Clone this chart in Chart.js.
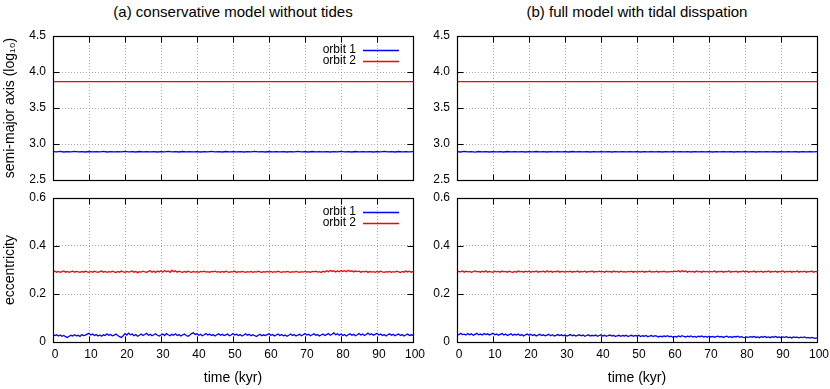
<!DOCTYPE html>
<html><head><meta charset="utf-8">
<script src="https://cdn.jsdelivr.net/npm/chart.js@4.4.1/dist/chart.umd.min.js"></script>
<style>
html,body{margin:0;padding:0;background:#fff;}
#wrap{position:relative;width:830px;height:389px;overflow:hidden;font-family:"Liberation Sans",Arial,sans-serif;}
.panel{position:absolute;}
.ttl{position:absolute;top:3px;font-size:15px;color:#000;white-space:nowrap;transform:translateX(-50%);line-height:18px;}
</style></head><body>
<div id="wrap">
<div class="ttl" style="left:233px">(a) conservative model without tides</div>
<div class="ttl" style="left:637px">(b) full model with tidal disspation</div>
<div class="panel" style="left:0;top:0;width:440px;height:190px"><canvas id="cLT"></canvas></div>
<div class="panel" style="left:0;top:180px;width:440px;height:209px"><canvas id="cLB"></canvas></div>
<div class="panel" style="left:410px;top:0;width:420px;height:190px"><canvas id="cRT"></canvas></div>
<div class="panel" style="left:410px;top:180px;width:420px;height:209px"><canvas id="cRB"></canvas></div>
</div>
<script>
// ---------- data ----------
const timeKyr = [0,1,2,3,4,5,6,7,8,9,10,11,12,13,14,15,16,17,18,19,20,21,22,23,24,25,26,27,28,29,30,31,32,33,34,35,36,37,38,39,40,41,42,43,44,45,46,47,48,49,50,51,52,53,54,55,56,57,58,59,60,61,62,63,64,65,66,67,68,69,70,71,72,73,74,75,76,77,78,79,80,81,82,83,84,85,86,87,88,89,90,91,92,93,94,95,96,97,98,99,100];
const timeFine = [0,0.5,1,1.5,2,2.5,3,3.5,4,4.5,5,5.5,6,6.5,7,7.5,8,8.5,9,9.5,
10,10.5,11,11.5,12,12.5,13,13.5,14,14.5,15,15.5,16,16.5,17,17.5,18,18.5,19,19.5,
20,20.5,21,21.5,22,22.5,23,23.5,24,24.5,25,25.5,26,26.5,27,27.5,28,28.5,29,29.5,
30,30.5,31,31.5,32,32.5,33,33.5,34,34.5,35,35.5,36,36.5,37,37.5,38,38.5,39,39.5,
40,40.5,41,41.5,42,42.5,43,43.5,44,44.5,45,45.5,46,46.5,47,47.5,48,48.5,49,49.5,
50,50.5,51,51.5,52,52.5,53,53.5,54,54.5,55,55.5,56,56.5,57,57.5,58,58.5,59,59.5,
60,60.5,61,61.5,62,62.5,63,63.5,64,64.5,65,65.5,66,66.5,67,67.5,68,68.5,69,69.5,
70,70.5,71,71.5,72,72.5,73,73.5,74,74.5,75,75.5,76,76.5,77,77.5,78,78.5,79,79.5,
80,80.5,81,81.5,82,82.5,83,83.5,84,84.5,85,85.5,86,86.5,87,87.5,88,88.5,89,89.5,
90,90.5,91,91.5,92,92.5,93,93.5,94,94.5,95,95.5,96,96.5,97,97.5,98,98.5,99,99.5,
100];
const timeCoarse = [0,25,50,75,100];

const xTicks = [0,10,20,30,40,50,60,70,80,90,100];
const semiAxisTicks = [2.5,3.0,3.5,4.0,4.5];
const eccTicks = [0,0.2,0.4,0.6];

const seriesLabels = ['orbit 1','orbit 2'];

// semi-major axis (log10), conservative model
const semiAxis1Cons = [2.895,2.890,2.897,2.889,2.894,2.891,2.898,2.890,2.893,2.889,
2.896,2.891,2.894,2.890,2.897,2.889,2.893,2.891,2.895,2.890,
2.898,2.891,2.894,2.889,2.896,2.890,2.893,2.891,2.895,2.889,
2.894,2.890,2.897,2.891,2.893,2.889,2.896,2.890,2.894,2.891,
2.895,2.889,2.893,2.890,2.897,2.891,2.894,2.889,2.896,2.890,
2.893,2.891,2.895,2.889,2.894,2.890,2.897,2.891,2.893,2.889,
2.896,2.890,2.894,2.891,2.895,2.889,2.893,2.890,2.897,2.891,
2.894,2.889,2.896,2.890,2.893,2.891,2.895,2.889,2.894,2.890,
2.897,2.891,2.893,2.889,2.896,2.890,2.894,2.891,2.895,2.889,
2.893,2.890,2.898,2.891,2.894,2.889,2.896,2.890,2.893,2.891,
2.894];
const semiAxis2Cons = [3.867,3.867,3.867,3.867,3.867];

// semi-major axis (log10), tidal model
const semiAxis1Tide = [2.894,2.889,2.897,2.890,2.895,2.888,2.896,2.891,2.893,2.889,
2.895,2.890,2.894,2.889,2.896,2.891,2.893,2.890,2.895,2.889,
2.894,2.890,2.896,2.891,2.893,2.889,2.895,2.890,2.894,2.891,
2.893,2.889,2.896,2.890,2.894,2.891,2.893,2.889,2.895,2.890,
2.894,2.891,2.893,2.889,2.895,2.890,2.894,2.891,2.893,2.890,
2.895,2.889,2.894,2.890,2.893,2.891,2.895,2.889,2.894,2.890,
2.893,2.891,2.895,2.890,2.894,2.889,2.893,2.891,2.895,2.890,
2.894,2.889,2.893,2.891,2.895,2.890,2.894,2.889,2.893,2.891,
2.894,2.890,2.893,2.889,2.895,2.891,2.894,2.890,2.893,2.889,
2.895,2.890,2.894,2.891,2.893,2.889,2.894,2.890,2.893,2.891,
2.893];
const semiAxis2Tide = [3.867,3.867,3.867,3.867,3.867];

// eccentricity, conservative model (every 0.5 kyr)
const ecc1Cons = [
0.031,0.027,0.030,0.025,0.029,0.024,0.027,0.022,0.019,0.024,0.028,0.025,0.030,0.026,0.028,0.023,0.031,0.027,0.029,0.033,
0.036,0.029,0.033,0.027,0.031,0.025,0.029,0.024,0.030,0.027,0.034,0.028,0.031,0.026,0.029,0.033,0.027,0.022,0.019,0.026,
0.035,0.029,0.037,0.030,0.033,0.026,0.031,0.024,0.028,0.033,0.027,0.031,0.036,0.028,0.032,0.026,0.030,0.034,0.028,0.025,
0.029,0.033,0.027,0.035,0.030,0.026,0.032,0.028,0.034,0.027,0.031,0.025,0.029,0.033,0.027,0.024,0.029,0.035,0.038,0.031,
0.034,0.028,0.032,0.026,0.030,0.035,0.029,0.033,0.027,0.031,0.025,0.030,0.034,0.028,0.032,0.027,0.030,0.033,0.026,0.029,
0.035,0.029,0.032,0.027,0.031,0.025,0.029,0.034,0.028,0.032,0.026,0.030,0.027,0.023,0.028,0.032,0.026,0.030,0.027,0.031,
0.034,0.028,0.031,0.025,0.029,0.033,0.027,0.031,0.026,0.029,0.024,0.028,0.033,0.027,0.031,0.025,0.029,0.032,0.026,0.030,
0.035,0.029,0.032,0.026,0.030,0.034,0.028,0.031,0.025,0.029,0.033,0.027,0.031,0.035,0.028,0.032,0.038,0.030,0.034,0.028,
0.033,0.027,0.031,0.025,0.030,0.034,0.028,0.032,0.026,0.030,0.035,0.029,0.033,0.027,0.031,0.037,0.030,0.034,0.028,0.032,
0.036,0.029,0.033,0.027,0.031,0.025,0.030,0.034,0.028,0.032,0.026,0.030,0.033,0.027,0.031,0.025,0.029,0.033,0.027,0.030,
0.028];
const ecc2Cons = [
0.292,0.295,0.291,0.294,0.290,0.293,0.296,0.291,0.294,0.290,0.293,0.295,0.291,0.294,0.292,0.290,0.294,0.291,0.295,0.292,
0.290,0.294,0.291,0.295,0.292,0.290,0.293,0.296,0.291,0.294,0.290,0.293,0.291,0.295,0.292,0.289,0.294,0.291,0.296,0.292,
0.290,0.294,0.291,0.293,0.296,0.291,0.294,0.289,0.293,0.291,0.295,0.292,0.290,0.294,0.297,0.291,0.295,0.290,0.296,0.292,
0.297,0.291,0.298,0.293,0.296,0.290,0.299,0.293,0.297,0.291,0.295,0.292,0.290,0.294,0.291,0.295,0.292,0.290,0.294,0.291,
0.293,0.290,0.294,0.292,0.295,0.291,0.293,0.290,0.294,0.292,0.295,0.291,0.293,0.290,0.294,0.291,0.295,0.292,0.290,0.293,
0.292,0.295,0.290,0.293,0.291,0.294,0.292,0.290,0.293,0.291,0.294,0.290,0.293,0.291,0.295,0.292,0.290,0.293,0.291,0.294,
0.291,0.294,0.290,0.293,0.291,0.295,0.292,0.290,0.293,0.291,0.294,0.292,0.290,0.293,0.291,0.294,0.292,0.290,0.293,0.291,
0.294,0.291,0.293,0.290,0.294,0.292,0.295,0.291,0.293,0.290,0.295,0.292,0.297,0.293,0.298,0.294,0.297,0.292,0.296,0.293,
0.298,0.294,0.297,0.293,0.299,0.294,0.297,0.292,0.296,0.293,0.295,0.291,0.294,0.292,0.295,0.290,0.294,0.291,0.293,0.290,
0.294,0.291,0.295,0.292,0.290,0.293,0.291,0.294,0.290,0.293,0.291,0.295,0.292,0.289,0.294,0.291,0.296,0.292,0.295,0.291,
0.294];

// eccentricity, tidal model (every 0.5 kyr)
const ecc1Tide = [
0.034,0.030,0.036,0.031,0.033,0.029,0.035,0.030,0.034,0.028,0.032,0.036,0.030,0.033,0.029,0.035,0.031,0.034,0.029,0.033,
0.036,0.030,0.033,0.028,0.032,0.035,0.029,0.033,0.027,0.031,0.034,0.028,0.032,0.029,0.033,0.027,0.031,0.025,0.030,0.033,
0.028,0.032,0.027,0.031,0.025,0.029,0.032,0.027,0.030,0.026,0.029,0.032,0.026,0.030,0.025,0.028,0.031,0.027,0.030,0.026,
0.029,0.025,0.028,0.031,0.026,0.029,0.025,0.028,0.030,0.026,0.029,0.024,0.027,0.030,0.025,0.028,0.026,0.029,0.024,0.027,
0.030,0.025,0.028,0.024,0.027,0.029,0.025,0.028,0.023,0.026,0.028,0.024,0.027,0.025,0.028,0.023,0.026,0.028,0.024,0.027,
0.025,0.028,0.023,0.026,0.024,0.027,0.022,0.025,0.027,0.023,0.026,0.024,0.021,0.024,0.022,0.025,0.023,0.026,0.022,0.024,
0.020,0.023,0.021,0.025,0.022,0.026,0.023,0.021,0.024,0.022,0.025,0.021,0.023,0.020,0.024,0.022,0.025,0.021,0.023,0.020,
0.024,0.021,0.023,0.020,0.022,0.024,0.021,0.023,0.019,0.022,0.024,0.020,0.022,0.019,0.023,0.021,0.024,0.020,0.022,0.019,
0.018,0.021,0.019,0.022,0.020,0.023,0.019,0.021,0.018,0.022,0.020,0.023,0.019,0.021,0.018,0.022,0.020,0.023,0.019,0.021,
0.018,0.021,0.019,0.022,0.018,0.020,0.017,0.021,0.019,0.020,0.017,0.020,0.018,0.021,0.017,0.019,0.016,0.019,0.017,0.015,
0.017];
const ecc2Tide = [
0.291,0.294,0.292,0.296,0.291,0.295,0.292,0.294,0.290,0.293,0.296,0.292,0.294,0.291,0.295,0.292,0.297,0.291,0.294,0.292,
0.290,0.295,0.292,0.294,0.291,0.296,0.292,0.294,0.291,0.295,0.292,0.290,0.294,0.291,0.296,0.292,0.294,0.291,0.295,0.292,
0.295,0.291,0.294,0.292,0.296,0.291,0.294,0.292,0.295,0.291,0.297,0.292,0.295,0.291,0.294,0.292,0.296,0.291,0.294,0.293,
0.291,0.294,0.292,0.295,0.291,0.294,0.292,0.296,0.291,0.294,0.292,0.295,0.291,0.294,0.292,0.296,0.291,0.294,0.292,0.295,
0.292,0.294,0.291,0.295,0.292,0.294,0.291,0.296,0.292,0.294,0.291,0.295,0.292,0.293,0.291,0.294,0.292,0.295,0.291,0.294,
0.291,0.294,0.292,0.295,0.291,0.294,0.292,0.296,0.291,0.293,0.292,0.295,0.291,0.294,0.292,0.295,0.291,0.293,0.292,0.294,
0.292,0.295,0.293,0.297,0.292,0.298,0.293,0.296,0.291,0.295,0.292,0.294,0.291,0.296,0.292,0.294,0.291,0.295,0.292,0.294,
0.291,0.294,0.292,0.296,0.291,0.294,0.292,0.295,0.291,0.294,0.292,0.296,0.291,0.294,0.292,0.295,0.291,0.294,0.292,0.296,
0.292,0.295,0.291,0.294,0.292,0.296,0.291,0.294,0.292,0.295,0.291,0.294,0.292,0.296,0.291,0.294,0.292,0.295,0.291,0.294,
0.292,0.296,0.291,0.294,0.292,0.295,0.291,0.294,0.292,0.296,0.291,0.294,0.292,0.295,0.291,0.294,0.292,0.296,0.291,0.294,
0.292];

// ---------- drawing ----------
const FONT = "'Liberation Sans', Arial, 'DejaVu Sans', sans-serif";
const BLUE = '#0000ff', RED = '#ff0000';

function zip(xs, ys){
  const n = Math.min(xs.length, ys.length);
  const out = [];
  for (let i = 0; i < n; i++) out.push({x: xs[i], y: ys[i]});
  return out;
}

const framePlugin = {
  id: 'frame',
  afterDatasetsDraw(chart, args, opts) {
    const {ctx, chartArea:a, scales} = chart;
    const L = Math.round(a.left)+0.5, R = Math.round(a.right)+0.5;
    const T = Math.round(a.top)+0.5, B = Math.round(a.bottom)+0.5;
    const tl = 6;
    ctx.save();
    ctx.strokeStyle = '#000';
    ctx.lineWidth = 1;
    ctx.beginPath();
    opts.xt.forEach(v=>{
      const p = Math.round(scales.x.getPixelForValue(v))+0.5;
      ctx.moveTo(p,T); ctx.lineTo(p,T+tl);
      ctx.moveTo(p,B); ctx.lineTo(p,B-tl);
    });
    opts.yt.forEach(v=>{
      const p = Math.round(scales.y.getPixelForValue(v))+0.5;
      ctx.moveTo(L,p); ctx.lineTo(L+tl,p);
      ctx.moveTo(R,p); ctx.lineTo(R-tl,p);
    });
    ctx.stroke();
    ctx.lineWidth = 1.2;
    ctx.strokeRect(L,T,R-L,B-T);
    if (opts.legend) {
      ctx.font = '12px ' + FONT;
      ctx.textAlign = 'right';
      ctx.textBaseline = 'middle';
      chart.data.datasets.forEach((ds,i)=>{
        const y = a.top + 14 + i*11;
        ctx.fillStyle = '#000';
        ctx.fillText(ds.label, a.right - 57, y);
        ctx.strokeStyle = ds.borderColor;
        ctx.lineWidth = 1.5;
        ctx.beginPath();
        ctx.moveTo(a.right - 50, y+0.5); ctx.lineTo(a.right - 14, y+0.5);
        ctx.stroke();
      });
    }
    ctx.restore();
  }
};

function makeChart(id, o) {
  const ds = o.series.map((s,i)=>({
    label: seriesLabels[i],
    data: zip(s.t, s.v),
    borderColor: i===0 ? BLUE : RED,
    borderWidth: o.lw[i],
    pointRadius: 0,
    tension: 0,
    fill: false
  }));
  return new Chart(document.getElementById(id), {
    type: 'line',
    data: { datasets: ds },
    plugins: [framePlugin],
    options: {
      responsive: true,
      maintainAspectRatio: false,
      animation: false,
      events: [],
      layout: { padding: o.pad },
      plugins: {
        legend: { display: false },
        tooltip: { enabled: false },
        frame: { legend: o.legend, xt: xTicks, yt: o.yt }
      },
      scales: {
        x: {
          type: 'linear', min: 0, max: 100,
          afterBuildTicks(s){ s.ticks = xTicks.map(v=>({value:v})); },
          afterFit(s){ s.height = o.xH; s.paddingLeft = 0; s.paddingRight = 0; },
          ticks: { display: o.xLabels, padding: 5, labelOffset: 2, maxRotation: 0, autoSkip: false, color: '#000',
                   font: { family: FONT, size: 12 } },
          grid: { color: '#a8a8a8', lineWidth: 1, drawTicks: false },
          border: { display: false, dash: [1,2] },
          title: { display: o.xLabels, text: 'time (kyr)', color: '#000',
                   font: { family: FONT, size: 14 }, padding: { top: 0, bottom: 2 } }
        },
        y: {
          type: 'linear', min: o.yt[0], max: o.yt[o.yt.length-1],
          afterBuildTicks(s){ s.ticks = o.yt.map(v=>({value:v})); },
          afterFit(s){ s.width = o.yW; s.paddingTop = 0; s.paddingBottom = 0; },
          ticks: { padding: 7, color: '#000', font: { family: FONT, size: 12 }, callback: o.fmt },
          grid: { color: '#a8a8a8', lineWidth: 1, drawTicks: false },
          border: { display: false, dash: [1,2] },
          title: { display: !!o.yTitle, text: o.yTitle || '', color: '#000',
                   font: { family: FONT, size: 14 }, padding: { top: 1.5, bottom: 0 } }
        }
      }
    }
  });
}

const fmtA = v => Number(v).toFixed(1);
const fmtE = v => (v === 0 ? '0' : Number(v).toFixed(1));

makeChart('cLT', {
  series: [{t: timeKyr, v: semiAxis1Cons}, {t: timeCoarse, v: semiAxis2Cons}],
  lw: [1.3, 1.3], pad: {left: 0, right: 27, top: 36, bottom: 10},
  xH: 0, yW: 53, xLabels: false, yt: semiAxisTicks, fmt: fmtA,
  yTitle: 'semi-major axis (log\u2081\u2080)', legend: true
});
makeChart('cLB', {
  series: [{t: timeFine, v: ecc1Cons}, {t: timeFine, v: ecc2Cons}],
  lw: [1.3, 1.3], pad: {left: 0, right: 27, top: 18, bottom: 0},
  xH: 47, yW: 53, xLabels: true, yt: eccTicks, fmt: fmtE,
  yTitle: 'eccentricity', legend: true
});
makeChart('cRT', {
  series: [{t: timeKyr, v: semiAxis1Tide}, {t: timeCoarse, v: semiAxis2Tide}],
  lw: [1.3, 1.3], pad: {left: 0, right: 13, top: 36, bottom: 10},
  xH: 0, yW: 47, xLabels: false, yt: semiAxisTicks, fmt: fmtA,
  yTitle: '', legend: false
});
makeChart('cRB', {
  series: [{t: timeFine, v: ecc1Tide}, {t: timeFine, v: ecc2Tide}],
  lw: [1.3, 1.3], pad: {left: 0, right: 13, top: 18, bottom: 0},
  xH: 47, yW: 47, xLabels: true, yt: eccTicks, fmt: fmtE,
  yTitle: '', legend: false
});
</script>
</body></html>
